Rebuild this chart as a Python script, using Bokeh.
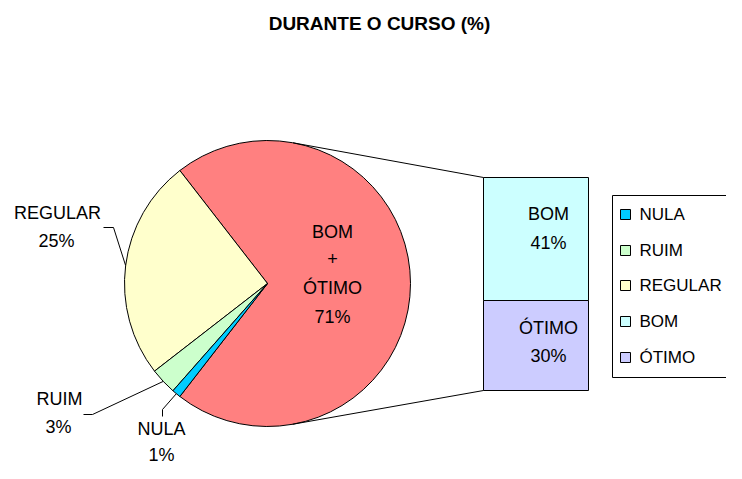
import math
from bokeh.plotting import figure
from bokeh.models import Range1d
from bokeh.embed import file_html
from bokeh.resources import INLINE
from bokeh.core.properties import value

# ---------------- data ----------------
categories = ["NULA", "RUIM", "REGULAR", "BOM", "ÓTIMO"]
percent = [1, 3, 25, 41, 30]
colors = ["#00CCFF", "#CCFFCC", "#FFFFCC", "#CCFFFF", "#CCCCFF"]
combined_lines = ["BOM", "+", "ÓTIMO"]
combined_color = "#FF8080"
title_text = "DURANTE O CURSO (%)"

# ---------------- layout (reference pixel coordinates) ----------------
W, H = 742, 479
FW, FH = 726, 463
FONT = value("Liberation Sans")


def Y(py):
    return H - py


p = figure(width=FW, height=FH, x_range=Range1d(0, FW), y_range=Range1d(H - FH, H),
           output_backend="svg", toolbar_location=None,
           x_axis_location=None, y_axis_location=None,
           min_border=0, outline_line_color=None)
p.grid.visible = False
p.background_fill_color = "white"


def txt(xs, ys, texts, size="18px", align="center", style="normal"):
    p.text(x=xs, y=[Y(v) for v in ys], text=texts, text_font=FONT,
           text_font_size=size, text_align=align, text_baseline="middle",
           text_color="black", text_font_style=style)


# title
txt([379], [23], [title_text], size="19px", style="bold")

# ---------------- pie ----------------
cx, cy, r = 267, Y(283), 143
total = sum(percent)
bar_idx = [3, 4]
pie_idx = [2, 1, 0]
combined = sum(percent[i] for i in bar_idx)
half = combined / total * math.pi

p.wedge(x=cx, y=cy, radius=r, start_angle=-half, end_angle=half,
        fill_color=combined_color, line_color="black", line_width=1)

mids = {}
a = half
for i in pie_idx:
    span = percent[i] / total * 2 * math.pi
    p.wedge(x=cx, y=cy, radius=r, start_angle=a, end_angle=a + span,
            fill_color=colors[i], line_color="black", line_width=1)
    mids[i] = a + span / 2
    a += span

# combined label inside
comb_texts = combined_lines + [f"{combined}%"]
txt([332] * 4, [231, 258, 287, 316], comb_texts)

# outside labels with leaders
label_pos = {2: [(57, 212), (56, 240)], 1: [(59, 398), (58, 426)], 0: [(161, 428), (161, 454)]}
elbows = {2: [(103, 227), (113, 227)], 1: [(83, 414), (92, 414)], 0: [(162, 416), (162, 409)]}
for i in pie_idx:
    (x1, y1), (x2, y2) = label_pos[i]
    txt([x1, x2], [y1, y2], [categories[i], f"{percent[i]}%"])
    ex = cx + r * math.cos(mids[i])
    ey = cy + r * math.sin(mids[i])
    pts = elbows[i]
    p.line(x=[pts[0][0], pts[1][0], ex], y=[Y(pts[0][1]), Y(pts[1][1]), ey],
           line_color="black", line_width=1)

# ---------------- bar ----------------
bx0, bx1, btop, bbot = 483, 588, 177, 390
bh = bbot - btop
bar_label_y = {3: (213, 242), 4: (327, 355)}
y0 = btop
for i in bar_idx:
    h = percent[i] / combined * bh
    p.quad(left=bx0, right=bx1, top=Y(y0), bottom=Y(y0 + h),
           fill_color=colors[i], line_color="black", line_width=1)
    ly1, ly2 = bar_label_y[i]
    txt([548, 548], [ly1, ly2], [categories[i], f"{percent[i]}%"])
    y0 += h


# connector lines (tangent from bar corners to the pie)
def tangent(px, py, sign):
    dx, dy = px - cx, py - cy
    d = math.hypot(dx, dy)
    t = math.atan2(dy, dx) + sign * math.acos(r / d)
    return cx + r * math.cos(t), cy + r * math.sin(t)


tx, ty = tangent(bx0, Y(btop), 1)
p.line(x=[tx, bx0], y=[ty, Y(btop)], line_color="black", line_width=1)
tx, ty = tangent(bx0, Y(bbot), -1)
p.line(x=[tx, bx0], y=[ty, Y(bbot)], line_color="black", line_width=1)

# ---------------- legend ----------------
lx = 612
p.quad(left=lx, right=760, top=Y(195), bottom=Y(377), fill_color="white",
       line_color="black", line_width=1)
leg_y = [214, 250, 285, 321, 357]
p.quad(left=[lx + 8] * 5, right=[lx + 18] * 5,
       top=[Y(v - 5) for v in leg_y], bottom=[Y(v + 5) for v in leg_y],
       fill_color=colors, line_color="black", line_width=1)
txt([lx + 27] * 5, leg_y, categories, size="17px", align="left")

open("out.html", "w").write(file_html(p, INLINE))
